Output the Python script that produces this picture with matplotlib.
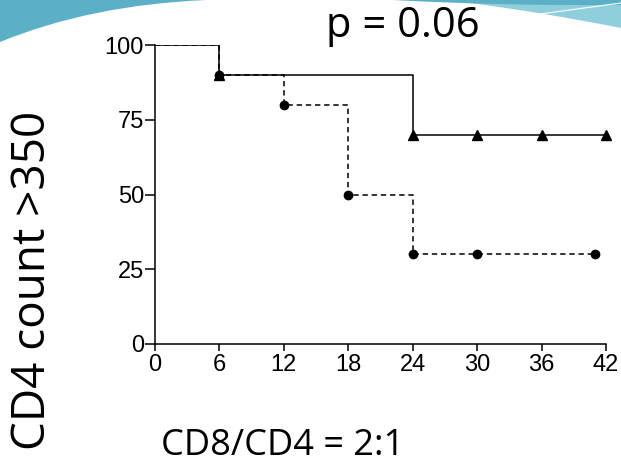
import numpy as np
import matplotlib.pyplot as plt
from matplotlib.path import Path
from matplotlib.patches import PathPatch

# survival data
time_a = [0, 6, 12, 18, 24, 30, 41]      # dashed, circles
surv_a = [100, 90, 80, 50, 30, 30, 30]
time_b = [0, 6, 24, 30, 36, 42]          # solid, triangles
surv_b = [100, 90, 70, 70, 70, 70]

x_ticks = [0, 6, 12, 18, 24, 30, 36, 42]
y_ticks = [0, 25, 50, 75, 100]

W, H = 621, 466
fig = plt.figure(figsize=(W / 100, H / 100), dpi=100)


def px(pts):
    # slide pixel coords (y down) -> figure fraction
    return [(x / W, 1 - y / H) for x, y in pts]


def swoosh(pts, codes, color):
    p = PathPatch(Path(px(pts), codes), facecolor=color, edgecolor='none',
                  transform=fig.transFigure, zorder=0)
    fig.patches.append(p)


M, L, C3, Z = Path.MOVETO, Path.LINETO, Path.CURVE3, Path.CLOSEPOLY
# slide decoration at the top
swoosh([(0, 0), (206, 0), (90, 5), (0, 42), (0, 0)],
       [M, L, C3, C3, Z], '#5bb0c8')
swoosh([(470, 3), (621, 3), (621, 28), (540, 12), (470, 3), (470, 3)],
       [M, L, L, C3, C3, Z], '#8fcfdc')
swoosh([(393, 0), (621, 0), (621, 5), (500, 6), (393, 0), (393, 0)],
       [M, L, L, C3, C3, Z], '#5bb0c8')
fig.add_artist(plt.Line2D([533 / W, 621 / W], [1 - 15 / H, 1 - 3 / H],
                          transform=fig.transFigure, color='white', lw=0.8))

ax = fig.add_axes([155 / W, 1 - 344 / H, 451 / W, 299 / H])
ax.patch.set_alpha(0)

ax.plot(time_b, surv_b, drawstyle='steps-post', color='black', lw=1.1)
ax.plot(time_a, surv_a, drawstyle='steps-post', color='black', lw=1.1,
        linestyle=(0, (3.5, 2.5)))
ax.plot(time_b[1:], surv_b[1:], '^', color='black', ms=6.5, clip_on=False)
ax.plot(time_a[1:], surv_a[1:], 'o', color='black', ms=6, clip_on=False)

ax.set_xlim(0, 42)
ax.set_ylim(0, 100)
ax.set_xticks(x_ticks)
ax.set_yticks(y_ticks)
for s in ['top', 'right']:
    ax.spines[s].set_visible(False)
for s in ['left', 'bottom']:
    ax.spines[s].set_linewidth(1.1)
ax.tick_params(axis='x', length=5, width=1.1, labelsize=17, pad=2)
ax.tick_params(axis='y', length=7, width=1.1, labelsize=17, pad=1)
for lab in ax.get_xticklabels() + ax.get_yticklabels():
    lab.set_family('Liberation Sans')

fig.text(403 / W, 1 - 37 / H, 'p = 0.06', ha='center', va='baseline',
         fontsize=30, family='Open Sans')
fig.text(33 / W, 1 - 280 / H, 'CD4 count >350', ha='center', va='center',
         rotation=90, fontsize=33, family='Open Sans')
fig.text(283 / W, 1 - 455 / H, 'CD8/CD4 = 2:1', ha='center', va='baseline',
         fontsize=26, family='Open Sans')

fig.savefig('out.png', dpi=100)
